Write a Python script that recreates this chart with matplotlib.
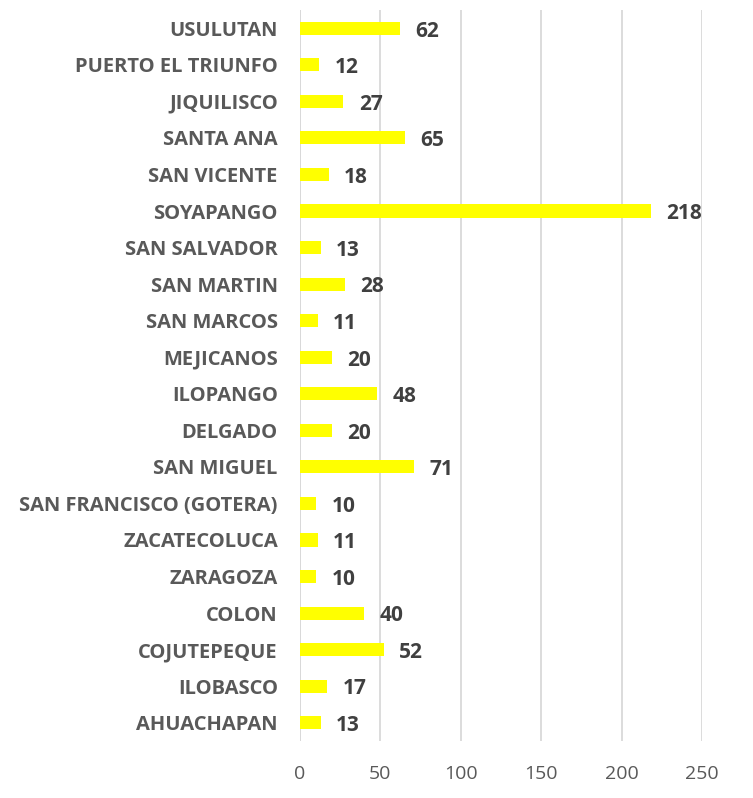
import matplotlib.pyplot as plt

plt.rcParams['font.family'] = ['Open Sans', 'DejaVu Sans']

municipios = ["USULUTAN", "PUERTO EL TRIUNFO", "JIQUILISCO", "SANTA ANA", "SAN VICENTE",
              "SOYAPANGO", "SAN SALVADOR", "SAN MARTIN", "SAN MARCOS", "MEJICANOS",
              "ILOPANGO", "DELGADO", "SAN MIGUEL", "SAN FRANCISCO (GOTERA)", "ZACATECOLUCA",
              "ZARAGOZA", "COLON", "COJUTEPEQUE", "ILOBASCO", "AHUACHAPAN"]
casos = [62, 12, 27, 65, 18, 218, 13, 28, 11, 20, 48, 20, 71, 10, 11, 10, 40, 52, 17, 13]
ticks = [0, 50, 100, 150, 200, 250]

fig = plt.figure(figsize=(7.53, 7.98), dpi=100)
ax = fig.add_axes([0.3984, 0.0714, 0.5339, 0.9161])

pos = list(range(len(municipios)))[::-1]
ax.barh(pos, casos, height=0.36, color='#FFFF00', zorder=3)
for p, v in zip(pos, casos):
    ax.annotate(str(v), (v, p), xytext=(11, -2), textcoords='offset points',
                va='center', ha='left', fontsize=15, fontweight='bold', color='#404040')

ax.set_yticks(pos)
ax.set_yticklabels(municipios, fontsize=14.5, fontweight='bold', color='#595959')
ax.set_xticks(ticks)
ax.set_xticklabels([str(t) for t in ticks], fontsize=14, color='#595959')
ax.set_xlim(0, 250)
ax.set_ylim(-0.5, len(municipios) - 0.5)
ax.tick_params(axis='both', length=0)
ax.tick_params(axis='x', pad=17)
ax.tick_params(axis='y', pad=16)
ax.grid(axis='x', color='#D9D9D9', linewidth=1.3, zorder=0)
for s in ax.spines.values():
    s.set_visible(False)
ax.axvline(0, color='#D9D9D9', linewidth=1.3, zorder=1)

fig.savefig('out.png', dpi=100)
